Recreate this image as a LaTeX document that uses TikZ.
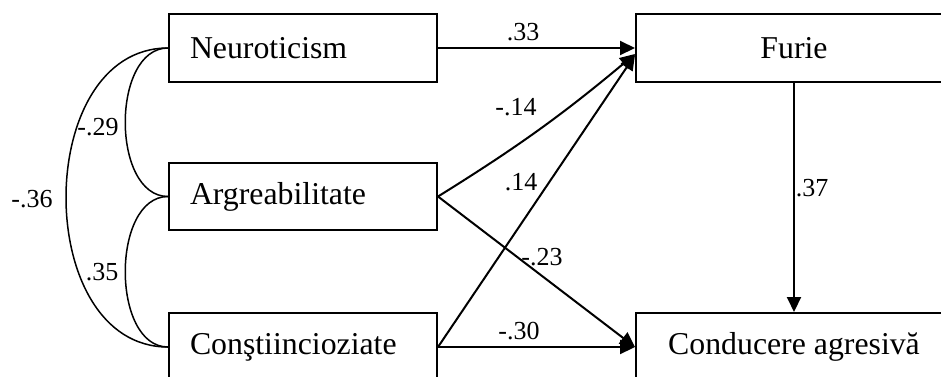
\documentclass[tikz,border=0pt]{standalone}
\usepackage{fontspec}
\setmainfont{Liberation Serif}
\usetikzlibrary{arrows.meta,calc}
\begin{document}
\begin{tikzpicture}[x=1pt,y=-1pt,
  lw/.style={line width=2pt},
  leftbox/.style={draw,lw,anchor=north west,inner xsep=21pt,inner ysep=0pt,
    text width=226pt,align=left,minimum height=68pt,
    font=\fontsize{31.8pt}{38pt}\selectfont},
  rightbox/.style={draw,lw,anchor=north west,inner sep=0pt,
    minimum width=316pt,minimum height=68pt,
    font=\fontsize{31.8pt}{38pt}\selectfont},
  path/.style={lw,-{Triangle[length=15pt,width=14pt]}},
  cov/.style={line width=1.5pt},
  coef/.style={inner sep=0pt,font=\fontsize{26pt}{30pt}\selectfont}]
\useasboundingbox (0,0) rectangle (941,376);
\node[leftbox] (neuro) at (168,13) {Neuroticism};
\node[leftbox,minimum height=67pt] (argre) at (168,162) {Argreabilitate};
\node[leftbox] (const) at (168,312) {Conştiincioziate};
\node[rightbox] (furie) at (635,13) {Furie};
\node[rightbox] (cond) at (635,312) {Conducere agresivă};

\draw[path] (neuro.east) -- (furie.west);
\draw[path] (argre.east) to[bend right=4] ($(furie.west)+(0,6)$);
\draw[path] (const.east) -- ($(furie.west)+(0,7)$);
\draw[path] (argre.east) -- (cond.west);
\draw[path] (const.east) -- (cond.west);
\draw[path] (furie.south) -- (cond.north);

\draw[cov] (neuro.west) .. controls +(-57,0) and +(-57,0) .. (argre.west);
\draw[cov] (argre.west) .. controls +(-57,0) and +(-57,0) .. (const.west);
\draw[cov] (neuro.west) .. controls +(-136,0) and +(-136,0) .. (const.west);

\node[coef] (c33) at (523,32) {.33};
\node[coef] (c14a) at (516,107) {-.14};
\node[coef] (c14b) at (521,182) {.14};
\node[coef] (c23) at (542,257) {-.23};
\node[coef] (c30) at (519,331) {-.30};
\node[coef] (c37) at (812,188) {.37};
\node[coef] (c29) at (98,127) {-.29};
\node[coef] (c35) at (102,272) {.35};
\node[coef] (c36) at (32,199) {-.36};
\end{tikzpicture}
\end{document}
